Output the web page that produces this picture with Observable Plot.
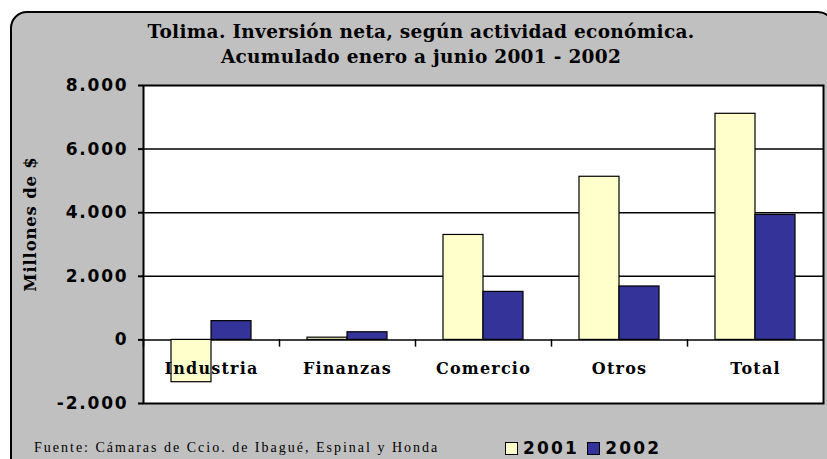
<!DOCTYPE html>
<html><head><meta charset="utf-8">
<script src="https://cdn.jsdelivr.net/npm/d3@7"></script>
<script src="https://cdn.jsdelivr.net/npm/@observablehq/plot@0.6"></script>
<style>
html,body{margin:0;padding:0;width:827px;height:459px;overflow:hidden;background:#fff;}
#wrap{position:relative;width:827px;height:459px;overflow:hidden;}
#bg{position:absolute;left:0;top:0;}
.title{position:absolute;left:10px;width:822px;text-align:center;font-family:"DejaVu Serif";font-weight:bold;font-size:18.5px;letter-spacing:0.3px;line-height:22px;color:#000;}
#chart{position:absolute;left:0;top:70px;}
#ytitle{position:absolute;left:30px;top:224px;transform:translate(-50%,-50%) rotate(-90deg);font-family:"DejaVu Serif";font-weight:bold;font-size:16.5px;letter-spacing:0.8px;white-space:nowrap;}
#source{position:absolute;left:34px;top:438px;font-family:"Liberation Serif";font-size:14px;letter-spacing:2px;line-height:20px;}
#legend{position:absolute;left:505px;top:438px;display:flex;align-items:center;font-family:"DejaVu Sans";font-weight:bold;font-size:17px;letter-spacing:2.2px;line-height:20px;}
#legend .sw{width:13px;height:13px;border:1px solid #000;box-sizing:border-box;margin-right:5px;}
#legend .item{display:flex;align-items:center;margin-right:8px;}
</style></head>
<body>
<div id="wrap">
  <svg id="bg" width="827" height="459"><rect x="11" y="12" width="823" height="470" rx="16" ry="16" fill="#c0c0c0" stroke="#000" stroke-width="2"/></svg>
  <div class="title" style="top:21px">Tolima. Inversión neta, según actividad económica.</div>
  <div class="title" style="top:46px">Acumulado enero a junio 2001 - 2002</div>
  <div id="chart"></div>
  <div id="ytitle">Millones de $</div>
  <div id="source">Fuente: Cámaras de Ccio. de Ibagué, Espinal y Honda</div>
  <div id="legend"></div>
</div>
<script>
const categories = ["Industria", "Finanzas", "Comercio", "Otros", "Total"];
const years = ["2001", "2002"];
const values2001 = [-1330, 70, 3300, 5130, 7110];
const values2002 = [590, 240, 1510, 1680, 3930];
const yTicks = [-2000, 0, 2000, 4000, 6000, 8000];
const gridTicks = [2000, 4000, 6000];
const colors = ["#FFFFCC", "#333399"];

const rows = [];
categories.forEach((c, i) => {
  rows.push({category: c, year: years[0], value: values2001[i]});
  rows.push({category: c, year: years[1], value: values2002[i]});
});

const yMin = -2000, yMax = 8000;
const mTop = 15, mBottom = 10, H = 343;
const plotH = H - mTop - mBottom;
const fmt = d => d === 0 ? "0" : d3.format(",")(d).replace(/,/g, ".").replace("\u2212", "-");

const chart = Plot.plot({
  width: 827, height: H,
  marginLeft: 142, marginRight: 4, marginTop: mTop, marginBottom: mBottom,
  style: {background: "transparent", overflow: "visible"},
  fx: {domain: categories, padding: 0, axis: null},
  x: {domain: years, paddingInner: 0, paddingOuter: 0.7, axis: null},
  y: {domain: [yMin, yMax], axis: null},
  color: {domain: years, range: colors},
  marks: [
    Plot.frame({fill: "white", facet: "super"}),
    Plot.ruleY(gridTicks, {stroke: "black", strokeWidth: 1.5}),
    Plot.ruleY([0], {stroke: "black", strokeWidth: 1.5}),
    Plot.frame({anchor: "left", stroke: "black", strokeWidth: 1.5,
      insetTop: plotH * yMax / (yMax - yMin),
      insetBottom: plotH * (-yMin) / (yMax - yMin) - 6}),
    Plot.barY(rows, {fx: "category", x: "year", y: "value", fill: "year", stroke: "black", strokeWidth: 1.2}),
    Plot.text(categories, {fx: d => d, text: d => d, frameAnchor: "bottom", dy: -30,
      fontFamily: "DejaVu Serif", fontWeight: "bold", fontSize: 16, fill: "black"}),
    Plot.axisY(yTicks, {tickSize: 5, tickPadding: 10, tickFormat: fmt, label: null,
      fontFamily: "DejaVu Sans", fontWeight: "bold", fontSize: 17, stroke: "black", strokeWidth: 2, fill: "black"}),
    Plot.frame({stroke: "black", strokeWidth: 2, facet: "super"})
  ]
});
document.getElementById("chart").appendChild(chart);
d3.select(chart).selectAll("[aria-label='y-axis tick label'] text").style("letter-spacing", "1.8px");
d3.select(chart).selectAll("[aria-label='text'] text").style("letter-spacing", "1.2px");

const legend = d3.select("#legend");
years.forEach((y, i) => {
  const it = legend.append("div").attr("class", "item");
  it.append("div").attr("class", "sw").style("background", colors[i]);
  it.append("span").text(y);
});
</script>
</body></html>
